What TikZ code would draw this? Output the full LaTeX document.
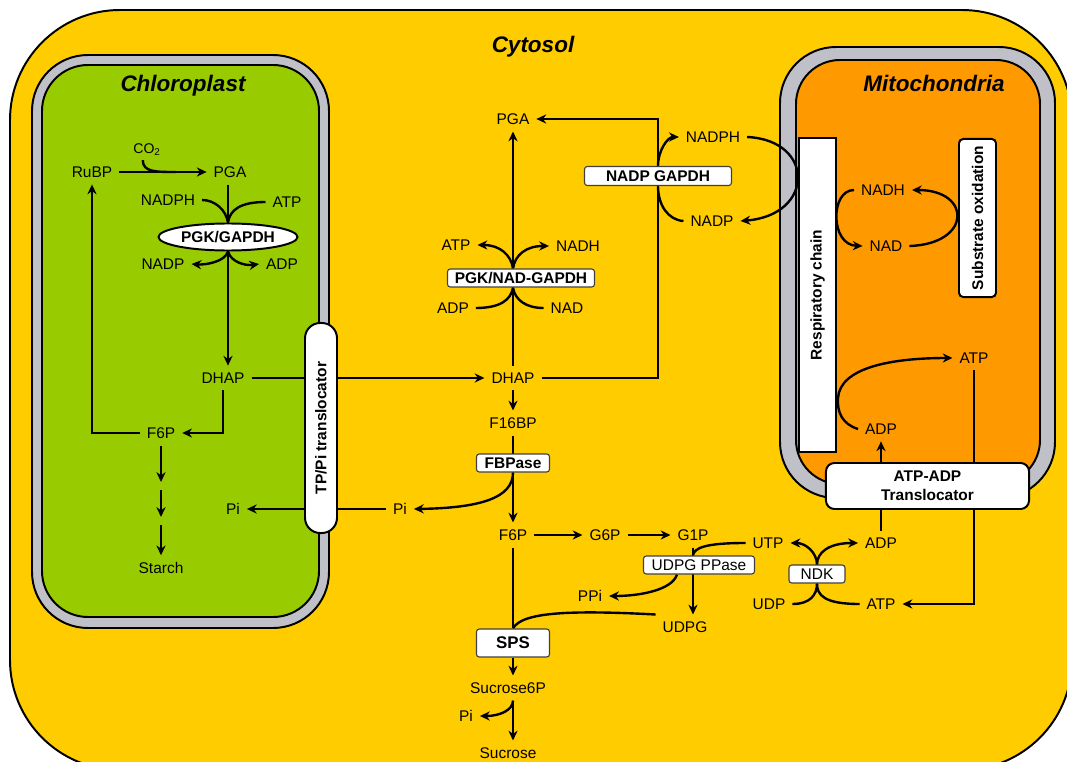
\documentclass[tikz,border=0pt]{standalone}
\usepackage{fontspec}
\setmainfont{Liberation Sans}
\usetikzlibrary{arrows.meta, shapes.geometric}

\definecolor{cytosolY}{RGB}{255,204,0}
\definecolor{chloroG}{RGB}{153,204,0}
\definecolor{mitoO}{RGB}{255,153,0}
\definecolor{membrane}{RGB}{192,192,200}

\pgfdeclarelayer{cell}
\pgfdeclarelayer{links}
\pgfsetlayers{cell,links,main}

\begin{document}
\begin{tikzpicture}[x=0.025cm, y=-0.025cm, line width=1.7pt,
    met/.style={font=\fontsize{11}{13}\selectfont, inner sep=1pt, outer sep=4pt},
    enz/.style={draw=black!75, fill=white, line width=0.8pt, rounded corners=2pt, inner sep=0pt,
                minimum height=0.45cm, font=\fontsize{11}{13}\selectfont\bfseries},
    carrier/.style={draw, fill=white, line width=1.4pt, inner sep=0pt, font=\fontsize{11}{13}\selectfont\bfseries},
    compname/.style={font=\fontsize{16}{19}\selectfont\bfseries\itshape},
    rxn/.style={-{Stealth[length=7pt,width=6.5pt]}},
    memb/.style={draw, line width=1.4pt, fill=membrane}]

\useasboundingbox (0,0) rectangle (1067,762);

% Compartments
\begin{pgfonlayer}{cell}
  \draw[fill=cytosolY, line width=1.4pt, rounded corners=2.75cm] (10,10) rectangle (1072,770);
  \draw[memb, rounded corners=1.4cm] (32,55) rectangle (329,628);
  \draw[fill=chloroG, line width=1.4pt, rounded corners=1.15cm] (42,65) rectangle (319,617);
  \draw[memb, rounded corners=1.4cm] (780,47) rectangle (1055,498);
  \draw[fill=mitoO, line width=1.4pt, rounded corners=1.1cm] (796,60) rectangle (1040,484);
\end{pgfonlayer}

\node[compname] (cytosol) at (533,47) {Cytosol};
\node[compname] (chloro) at (183,86) {Chloroplast};
\node[compname] (mito) at (934,83) {Mitochondria};

% Chloroplast
\node[met] (cRuBP) at (92,172) {RuBP};
\node[met, font=\fontsize{10}{12}\selectfont] (cCO2) at (147,150) {CO\textsubscript{2}};
\node[met] (cPGA) at (230,172) {PGA};
\node[met] (cNADPH) at (168,200) {NADPH};
\node[met] (cATP) at (287,202) {ATP};
\node[ellipse, draw, fill=white, line width=1.4pt, inner sep=0pt, minimum width=3.475cm,
      minimum height=0.675cm, font=\fontsize{11}{13}\selectfont\bfseries] (pgk) at (228,237) {PGK/GAPDH};
\node[met] (cNADP) at (163,264) {NADP};
\node[met] (cADP) at (282,264) {ADP};
\node[met] (cDHAP) at (223,378) {DHAP};
\node[met] (cF6P) at (161,433) {F6P};
\node[met] (cPi) at (233,509) {Pi};
\node[met] (cStarch) at (161,568) {Starch};
\coordinate (st1) at (161,482);
\coordinate (st2) at (161,517);
\node[carrier, rotate=90, rounded corners=0.38cm, minimum width=5.25cm, minimum height=0.8cm] (tpt) at (321,428) {TP/Pi translocator};

% Cytosol
\node[met] (yPGA) at (513,119) {PGA};
\node[enz, minimum width=3.675cm, minimum height=0.475cm] (ngap) at (658,176) {NADP GAPDH};
\node[met] (yNADPH) at (713,137) {NADPH};
\node[met] (yNADP) at (712,221) {NADP};
\node[met] (yATP1) at (456,245) {ATP};
\node[met] (yNADH) at (578,246) {NADH};
\node[enz, minimum width=3.675cm] (pgknad) at (521,278) {PGK/NAD-GAPDH};
\node[met] (yADP1) at (453,308) {ADP};
\node[met] (yNAD) at (567,308) {NAD};
\node[met] (yDHAP) at (513,378) {DHAP};
\node[met] (yF16BP) at (513,423) {F16BP};
\node[enz, minimum width=1.825cm] (fbp) at (513,463) {FBPase};
\node[met] (yPi) at (400,509) {Pi};
\node[met] (yF6P) at (513,535) {F6P};
\node[met] (yG6P) at (605,535) {G6P};
\node[met] (yG1P) at (693,535) {G1P};
\node[enz, font=\fontsize{11}{13}\selectfont, minimum width=2.775cm] (ppase) at (699,565) {UDPG PPase};
\node[met] (yPPi) at (590,596) {PPi};
\node[met] (yUDPG) at (685,627) {UDPG};
\node[enz, minimum width=1.825cm, minimum height=0.7cm, font=\fontsize{12}{14}\selectfont\bfseries] (sps) at (513,643) {SPS};
\node[met] (ySuc6P) at (508,688) {Sucrose6P};
\node[met] (yPi3) at (466,716) {Pi};
\node[met] (ySuc) at (508,753) {Sucrose};
\node[met] (yUTP) at (768,543) {UTP};
\node[met] (yADP) at (881,543) {ADP};
\node[enz, font=\fontsize{11}{13}\selectfont, minimum width=1.4cm] (ndk) at (817,574) {NDK};
\node[met] (yUDP) at (769,604) {UDP};
\node[met] (yATP) at (881,604) {ATP};

% Mitochondria
\node[carrier, rotate=90, minimum width=7.85cm, minimum height=0.925cm] (resp) at (817.5,295) {Respiratory chain};
\node[carrier, rotate=90, rounded corners=3pt, minimum width=3.95cm, minimum height=0.925cm] (subox) at (977.5,218) {Substrate oxidation};
\node[met] (mNADH) at (883,190) {NADH};
\node[met] (mNAD) at (886,246) {NAD};
\node[met] (mATP) at (974,358) {ATP};
\node[met] (mADP) at (881,429) {ADP};
\node[carrier, rounded corners=6pt, align=center, minimum width=5.075cm, minimum height=1.15cm,
      font=\fontsize{11}{13.5}\selectfont\bfseries] (atpadp) at (927.5,486) {ATP-ADP\\Translocator};

\begin{pgfonlayer}{links}
\begin{scope}[line width=1.7pt]
  % Calvin cycle
  \draw[rxn] (cRuBP.east) -- (cRuBP.east -| cPGA.west);
  \draw ([xshift=-3pt,yshift=2pt]cCO2.south) .. controls (143,172) and (155,172) .. (176,172);
  \draw (cPGA.south -| pgk.north) -- (pgk.north);
  \draw (cNADPH.east) .. controls (215,200) and (226,210) .. (pgk.north);
  \draw (cATP.west) .. controls (240,202) and (230,210) .. (pgk.north);
  \draw[rxn] (pgk.south) .. controls (225,262) and (205,265) .. (cNADP.east);
  \draw[rxn] (pgk.south) .. controls (231,262) and (245,266) .. (cADP.west);
  \draw[rxn] (pgk.south) -- (pgk.south |- cDHAP.north);
  \draw[rxn] (cDHAP.south) |- (cF6P.east);
  \draw[rxn] (cF6P.west) -| (cRuBP.south);
  \draw[rxn] (cF6P.south) -- (st1);
  \draw[rxn] ([yshift=-6pt]st1) -- (st2);
  \draw[rxn] ([yshift=-6pt]st2) -- (cStarch.north);

  % exchange with the cytosol
  \draw[rxn] (cDHAP.east) -- (yDHAP.west);
  \draw[rxn] (yPi.west) -- (cPi.east);

  % glycolysis / shuttle
  \draw[rxn] (yDHAP.north) -- (yPGA.south);
  \draw[rxn] (yDHAP |- pgknad.north) .. controls (511,255) and (500,245) .. (yATP1.east);
  \draw[rxn] (yDHAP |- pgknad.north) .. controls (515,255) and (526,246) .. (yNADH.west);
  \draw (yADP1.east) .. controls (500,308) and (511,300) .. (yDHAP |- pgknad.south);
  \draw (yNAD.west) .. controls (526,308) and (515,300) .. (yDHAP |- pgknad.south);
  \draw[rxn] (yDHAP.east) -| (ngap.center) |- (yPGA.east);
  \draw[rxn] (ngap.north) .. controls (658,150) and (668,137) .. (yNADPH.west);
  \draw (yNADP.west) .. controls (668,220) and (658,205) .. (ngap.south);
  \draw[rxn] (yNADPH.east) .. controls (815,140) and (815,215) .. (yNADP.east);

  % sucrose synthesis
  \draw[rxn] (yDHAP.south) -- (yF16BP.north);
  \draw[rxn] (yF16BP.south) -- (yF6P.north);
  \draw[rxn] (fbp.south) .. controls (513,498) and (480,508) .. (yPi.east);
  \draw[rxn] (yF6P) -- (yG6P);
  \draw[rxn] (yG6P) -- (yG1P);
  \draw[rxn] (yG1P.south) -- (yG1P.south |- yUDPG.north);
  \draw (yUTP.west) .. controls (705,543) and (694,548) .. (yG1P |- ppase.north);
  \draw[rxn] ([xshift=-0.55cm]ppase.south) .. controls (672,590) and (640,596) .. (yPPi.east);
  \draw (yUDPG.north west) .. controls (570,610) and (522,612) .. (yF6P |- sps.north);
  \draw (yF6P.south) -- (yF6P |- sps.north);
  \draw[rxn] (sps.south) -- (sps.south |- ySuc6P.north);
  \draw[rxn] (sps.south |- ySuc6P.south) -- (sps.south |- ySuc.north);
  \draw[rxn] (sps.south |- ySuc6P.south) .. controls (513,710) and (500,716) .. (yPi3.east);

  % NDK
  \draw[rxn] (yUDP.east) .. controls (810,604) and (817,595) .. (ndk.south) -- (ndk.north)
        .. controls (817,553) and (828,543) .. (yADP.west);
  \draw[rxn] (yATP.west) .. controls (824,604) and (817,595) .. (ndk.south) -- (ndk.north)
        .. controls (817,553) and (806,543) .. (yUTP.east);

  % Mitochondria
  \draw[rxn] (mNADH.west) .. controls (830,190) and (830,245) .. (mNAD.west);
  \draw[rxn] (mNAD.east) .. controls (972,244) and (972,190) .. (mNADH.east);
  \draw[rxn] (mADP.west) .. controls (842,424) and (837,412) .. (838,398)
        .. controls (840,368) and (890,358) .. (mATP.west);
  \draw[rxn] (mADP |- atpadp.north) -- (mADP.south);
  \draw (yADP.north) -- (yADP.north |- atpadp.south);
  \draw[rxn] (mATP.south) |- (yATP.east);
\end{scope}
\end{pgfonlayer}
\end{tikzpicture}
\end{document}
